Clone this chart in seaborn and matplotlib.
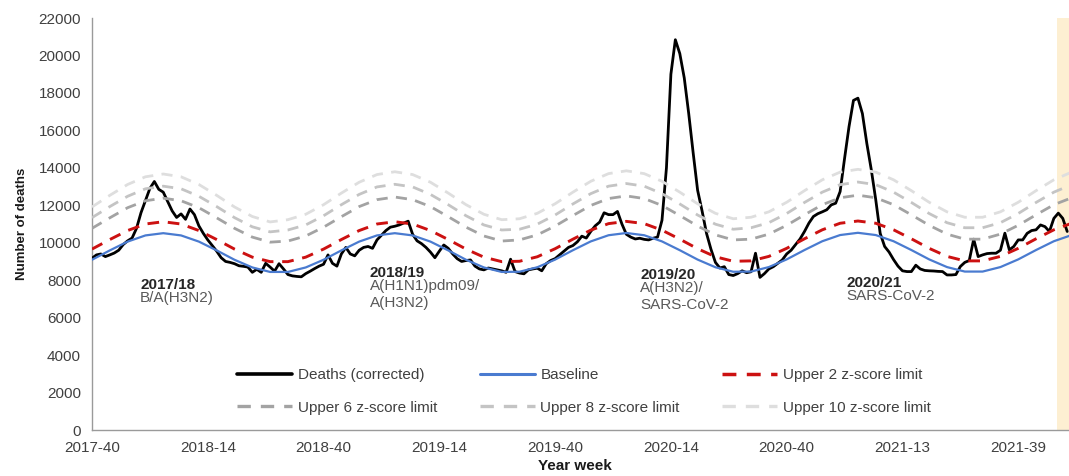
import numpy as np
import pandas as pd
import matplotlib
matplotlib.use("Agg")
import matplotlib.pyplot as plt
import seaborn as sns
from matplotlib.lines import Line2D

sns.set_style("white")
plt.rcParams['font.family'] = ['Liberation Sans', 'DejaVu Sans']

# ---------------- data ----------------
tick_weeks = [0, 26, 52, 78, 104, 130, 156, 182, 208]
tick_labels = ["2017-40", "2018-14", "2018-40", "2019-14", "2019-40",
               "2020-14", "2020-40", "2021-13", "2021-39"]

deaths = [
    9170, 9350, 9400, 9260, 9350, 9450, 9600, 9900, 10100, 10250,
    10770, 11600, 12250, 12900, 13270, 12850, 12700, 12200, 11700, 11350,
    11540, 11250, 11800, 11500, 10900, 10500, 10150, 9850, 9550, 9200,
    9000, 8950, 8880, 8770, 8740, 8700, 8420, 8580, 8420, 8900,
    8700, 8480, 8880, 8600, 8300, 8230, 8200, 8180, 8350, 8480,
    8620, 8750, 8850, 9350, 8900, 8750, 9400, 9750, 9400, 9300,
    9600, 9750, 9800, 9700, 10150, 10400, 10650, 10830, 10880, 10950,
    11050, 11150, 10450, 10100, 9950, 9750, 9500, 9200, 9550, 9880,
    9700, 9400, 9150, 9000, 9050, 9080, 8750, 8600, 8550, 8650,
    8600, 8550, 8500, 8420, 9120, 8460, 8380, 8340, 8550, 8600,
    8640, 8500, 8880, 9050, 9150, 9350, 9550, 9750, 9850, 10050,
    10350, 10250, 10600, 10900, 11100, 11600, 11500, 11500, 11670, 11000,
    10450, 10300, 10200, 10240, 10180, 10150, 10240, 10300, 11200, 14000,
    19000, 20840, 20100, 18800, 16900, 14800, 12800, 11700, 10500, 9650,
    8950, 8650, 8720, 8300, 8250, 8350, 8500, 8400, 8450, 9440,
    8150, 8350, 8600, 8720, 8900, 9080, 9400, 9600, 9900, 10200,
    10600, 11050, 11400, 11550, 11650, 11760, 12020, 12110, 12730, 14500,
    16200, 17600, 17720, 16900, 15300, 13900, 12300, 10500, 9800, 9500,
    9100, 8750, 8500, 8460, 8460, 8800, 8600, 8520, 8500, 8490,
    8470, 8460, 8280, 8280, 8300, 8730, 8950, 9050, 10190, 9260,
    9350, 9420, 9440, 9440, 9600, 10510, 9620, 9800, 10150, 10150,
    10500, 10650, 10690, 10950, 10860, 10600, 11300, 11580, 11300, 10600,
]
death_weeks = list(range(len(deaths)))

# smooth series read every 4 weeks (week 0, 4, ..., 220)
limit_weeks = list(range(0, 221, 4))

baseline = [
    9090, 9590, 10060, 10390, 10510, 10390, 10060, 9590, 9090, 8680, 8440,
    8440, 8680, 9090, 9590, 10060, 10390, 10510, 10390, 10060, 9590, 9090, 8680, 8440,
    8450, 8690, 9100, 9600, 10070, 10400, 10520, 10400, 10070, 9600, 9100, 8690, 8450,
    8460, 8700, 9110, 9610, 10080, 10410, 10530, 10410, 10080, 9610, 9110, 8700, 8460,
    8460, 8700, 9110, 9610, 10080, 10410,
]
upper2 = [
    9660, 10170, 10650, 11000, 11120, 11000, 10650, 10170, 9660, 9230, 8990,
    8990, 9230, 9660, 10170, 10650, 11000, 11120, 11000, 10650, 10170, 9660, 9230, 8990,
    9010, 9250, 9680, 10190, 10670, 11020, 11140, 11020, 10670, 10190, 9680, 9250, 9010,
    9030, 9270, 9700, 10210, 10690, 11040, 11160, 11040, 10690, 10210, 9700, 9270, 9030,
    9030, 9270, 9700, 10210, 10690, 11040,
]
upper6 = [
    10770, 11330, 11870, 12240, 12380, 12240, 11870, 11330, 10770, 10300, 10030,
    10090, 10360, 10830, 11390, 11930, 12300, 12440, 12300, 11930, 11390, 10830, 10360, 10090,
    10150, 10420, 10890, 11450, 11990, 12360, 12500, 12360, 11990, 11450, 10890, 10420, 10150,
    10190, 10460, 10930, 11490, 12030, 12400, 12540, 12400, 12030, 11490, 10930, 10460, 10190,
    10190, 10460, 10930, 11490, 12030, 12400,
]
upper8 = [
    11340, 11930, 12480, 12880, 13020, 12880, 12480, 11930, 11340, 10850, 10580,
    10680, 10950, 11440, 12030, 12580, 12980, 13120, 12980, 12580, 12030, 11440, 10950, 10680,
    10720, 10990, 11480, 12070, 12620, 13020, 13160, 13020, 12620, 12070, 11480, 10990, 10720,
    10800, 11070, 11560, 12150, 12700, 13100, 13240, 13100, 12700, 12150, 11560, 11070, 10800,
    10800, 11070, 11560, 12150, 12700, 13100,
]
upper10 = [
    11910, 12530, 13110, 13520, 13670, 13520, 13110, 12530, 11910, 11400, 11110,
    11230, 11520, 12030, 12650, 13230, 13640, 13790, 13640, 13230, 12650, 12030, 11520, 11230,
    11280, 11570, 12080, 12700, 13280, 13690, 13840, 13690, 13280, 12700, 12080, 11570, 11280,
    11360, 11650, 12160, 12780, 13360, 13770, 13920, 13770, 13360, 12780, 12160, 11650, 11360,
    11360, 11650, 12160, 12780, 13360, 13770,
]

season_titles = ["2017/18", "2018/19", "2019/20", "2020/21"]
season_subtitles = ["B/A(H3N2)", "A(H1N1)pdm09/\nA(H3N2)", "A(H3N2)/\nSARS-CoV-2", "SARS-CoV-2"]

series_labels = ["Deaths (corrected)", "Baseline", "Upper 2 z-score limit",
                 "Upper 6 z-score limit", "Upper 8 z-score limit", "Upper 10 z-score limit"]

# ---------------- figure ----------------
W, H = 1069, 476
fig = plt.figure(figsize=(W / 100, H / 100), dpi=100)
ax_left, ax_right, ax_top, ax_bot = 92, 1069, 18, 430
ax = fig.add_axes([ax_left / W, 1 - ax_bot / H, (ax_right - ax_left) / W, (ax_bot - ax_top) / H])

# shaded recent period
ax.axvspan(216.8, 225, color="#FDEFD2", lw=0, zorder=0)

df_d = pd.DataFrame({"week": death_weeks, "value": deaths})
df_l = pd.DataFrame({"week": limit_weeks, "baseline": baseline, "u2": upper2,
                     "u6": upper6, "u8": upper8, "u10": upper10})

dash = (0, (4, 3))
styles = [
    (df_d, "value", "#000000", 2.0, "-"),
    (df_l, "baseline", "#4A7BD0", 1.6, "-"),
    (df_l, "u2", "#CC1111", 2.1, dash),
    (df_l, "u6", "#A3A3A3", 2.0, dash),
    (df_l, "u8", "#C4C4C4", 2.0, dash),
    (df_l, "u10", "#DEDEDE", 2.0, dash),
]
handles = []
for (d, col, c, lw, ls), lab in zip(styles, series_labels):
    sns.lineplot(data=d, x="week", y=col, ax=ax, color=c, linewidth=lw,
                 linestyle=ls, estimator=None, errorbar=None, legend=False, zorder=3)
    handles.append(Line2D([0], [0], color=c, lw=lw + 0.4 if ls != "-" else lw + 0.6, linestyle=ls))

ax.set_xlim(0, 219.4)
ax.set_ylim(0, 22000)
ax.set_yticks(np.arange(0, 22001, 2000))
ax.set_xticks(tick_weeks)
ax.set_xticklabels(tick_labels)

for s in ["top", "right"]:
    ax.spines[s].set_visible(False)
for s in ["left", "bottom"]:
    ax.spines[s].set_color("#9A9A9A")
    ax.spines[s].set_linewidth(1.0)
ax.tick_params(axis="both", which="both", direction="out", length=3, width=0.8,
               color="#9A9A9A", labelsize=11, labelcolor="#404040")
ax.tick_params(axis="x", pad=5)
ax.tick_params(axis="y", pad=5)

ax.set_xlabel("Year week", fontsize=11, fontweight="bold", color="#1A1A1A")
ax.xaxis.set_label_coords(0.494, -0.0715)
ax.set_ylabel("Number of deaths", fontsize=9.5, fontweight="bold", color="#1A1A1A")
ax.yaxis.set_label_coords(-0.066, 0.5)

# season annotations
ann_x = [10.8, 62.4, 123.1, 169.5]
title_y = [7750, 8390, 8280, 7850]
for x, ty, t, sub in zip(ann_x, title_y, season_titles, season_subtitles):
    ax.text(x, ty, t, fontsize=11, fontweight="bold", color="#262626", ha="left", va="center")
    ax.text(x, ty - 330, sub, fontsize=11, color="#595959", ha="left", va="top",
            linespacing=1.3)

# legend filled row-wise like the reference (matplotlib fills column-wise)
order = [0, 3, 1, 4, 2, 5]
leg = ax.legend([handles[i] for i in order], [series_labels[i] for i in order],
                ncol=3, loc="center",
                bbox_to_anchor=(0.5036, 0.0934), frameon=False, fontsize=11,
                handlelength=3.6, handletextpad=0.35, columnspacing=2.8,
                labelspacing=1.2)
for t in leg.get_texts():
    t.set_color("#404040")

fig.savefig("out.png", dpi=100)
